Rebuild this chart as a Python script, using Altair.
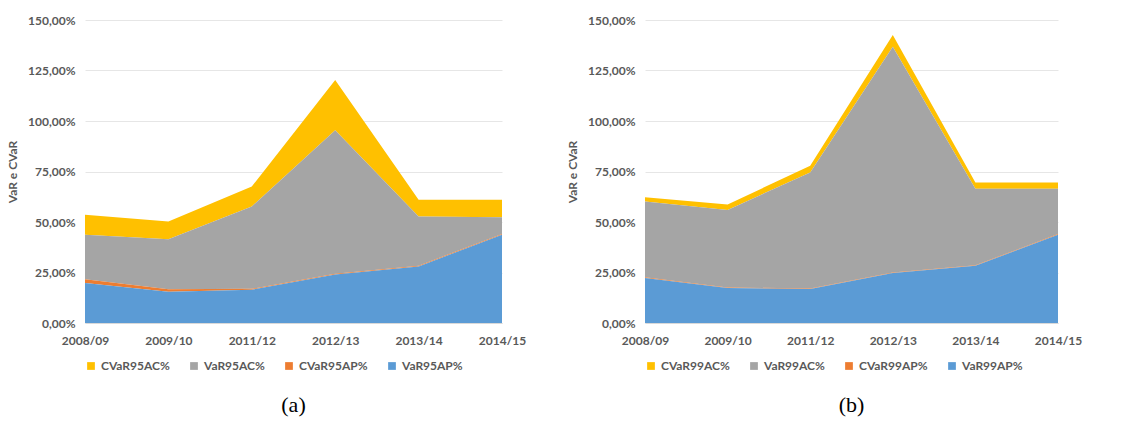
import altair as alt
import pandas as pd

years = ["2008/09", "2009/10", "2011/12", "2012/13", "2013/14", "2014/15"]

# Panel (a) – 95%
var95ap = [19.8, 15.5, 16.5, 24.0, 28.0, 43.7]
cvar95ap = [1.8, 1.2, 0.4, 0.4, 0.4, 0.4]
var95ac = [22.1, 24.8, 40.8, 71.0, 24.3, 8.3]
cvar95ac = [9.9, 8.8, 9.9, 24.9, 8.3, 8.6]
names95 = ["CVaR95AC%", "VaR95AC%", "CVaR95AP%", "VaR95AP%"]

# Panel (b) – 99%
var99ap = [22.3, 17.3, 16.8, 24.7, 28.3, 43.7]
cvar99ap = [0.3, 0.3, 0.3, 0.3, 0.3, 0.3]
var99ac = [37.6, 38.4, 57.4, 111.8, 37.8, 22.4]
cvar99ac = [2.1, 2.7, 3.3, 5.8, 3.2, 3.2]
names99 = ["CVaR99AC%", "VaR99AC%", "CVaR99AP%", "VaR99AP%"]

colors = ["#FFC000", "#A5A5A5", "#ED7D31", "#5B9BD5"]
y_ticks = [0, 25, 50, 75, 100, 125, 150]

FONT = "Lato"
TXT = "#595959"


def panel(cac, ac, cap, ap, names, caption, width):
    rows = []
    series = [cac, ac, cap, ap]
    # stacking order: AP (bottom) -> CVaR AP -> VaR AC -> CVaR AC (top)
    stack_ord = [3, 2, 1, 0]
    for name, vals, o in zip(names, series, stack_ord):
        for yr, v in zip(years, vals):
            rows.append({"year": yr, "value": v, "series": name, "ord": o})
    df = pd.DataFrame(rows)
    return (
        alt.Chart(df)
        .mark_area(opacity=1)
        .encode(
            x=alt.X(
                "year:O",
                sort=years,
                scale=alt.Scale(type="point", padding=0),
                axis=alt.Axis(
                    title=None,
                    labelAngle=0,
                    labelFont=FONT,
                    labelFontSize=12,
                    labelFontWeight="bold",
                    labelColor=TXT,
                    labelPadding=12,
                    ticks=False,
                    domainColor="#D9D9D9",
                    grid=False,
                ),
            ),
            y=alt.Y(
                "value:Q",
                stack="zero",
                scale=alt.Scale(domain=[0, 150], nice=False),
                axis=alt.Axis(
                    title="VaR e CVaR",
                    titleFont=FONT,
                    titleFontSize=12,
                    titleFontWeight="bold",
                    titleColor=TXT,
                    titlePadding=8,
                    values=y_ticks,
                    labelExpr="replace(format(datum.value, '.2f'), '.', ',') + '%'",
                    labelFont=FONT,
                    labelFontSize=12,
                    labelFontWeight="bold",
                    labelColor=TXT,
                    labelPadding=10,
                    ticks=False,
                    domain=False,
                    gridColor="#E6E6E6",
                ),
            ),
            color=alt.Color(
                "series:N",
                scale=alt.Scale(domain=names, range=colors),
                legend=alt.Legend(
                    title=None,
                    orient="bottom",
                    direction="horizontal",
                    columns=4,
                    symbolType="square",
                    symbolSize=60,
                    symbolStrokeWidth=0,
                    labelFont=FONT,
                    labelFontSize=12,
                    labelFontWeight="bold",
                    labelColor=TXT,
                    columnPadding=18,
                    offset=14,
                ),
            ),
            order=alt.Order("ord:Q", sort="ascending"),
        )
        .properties(
            width=width,
            height=303,
            title=alt.TitleParams(
                caption,
                orient="bottom",
                font="Liberation Serif",
                fontSize=22,
                fontWeight="normal",
                color="#000000",
                offset=23,
            ),
        )
    )


left = panel(cvar95ac, var95ac, cvar95ap, var95ap, names95, "(a)", 417)
right = panel(cvar99ac, var99ac, cvar99ap, var99ap, names99, "(b)", 413)

chart = (
    alt.hconcat(left, right, spacing=40)
    .resolve_scale(color="independent")
    .resolve_legend(color="independent")
    .configure_view(stroke=None)
    .properties(padding={"left": 6, "top": 14, "right": 5, "bottom": 5}, background="white")
)

chart.save("out.html", embed_options={"renderer": "svg", "actions": False})
